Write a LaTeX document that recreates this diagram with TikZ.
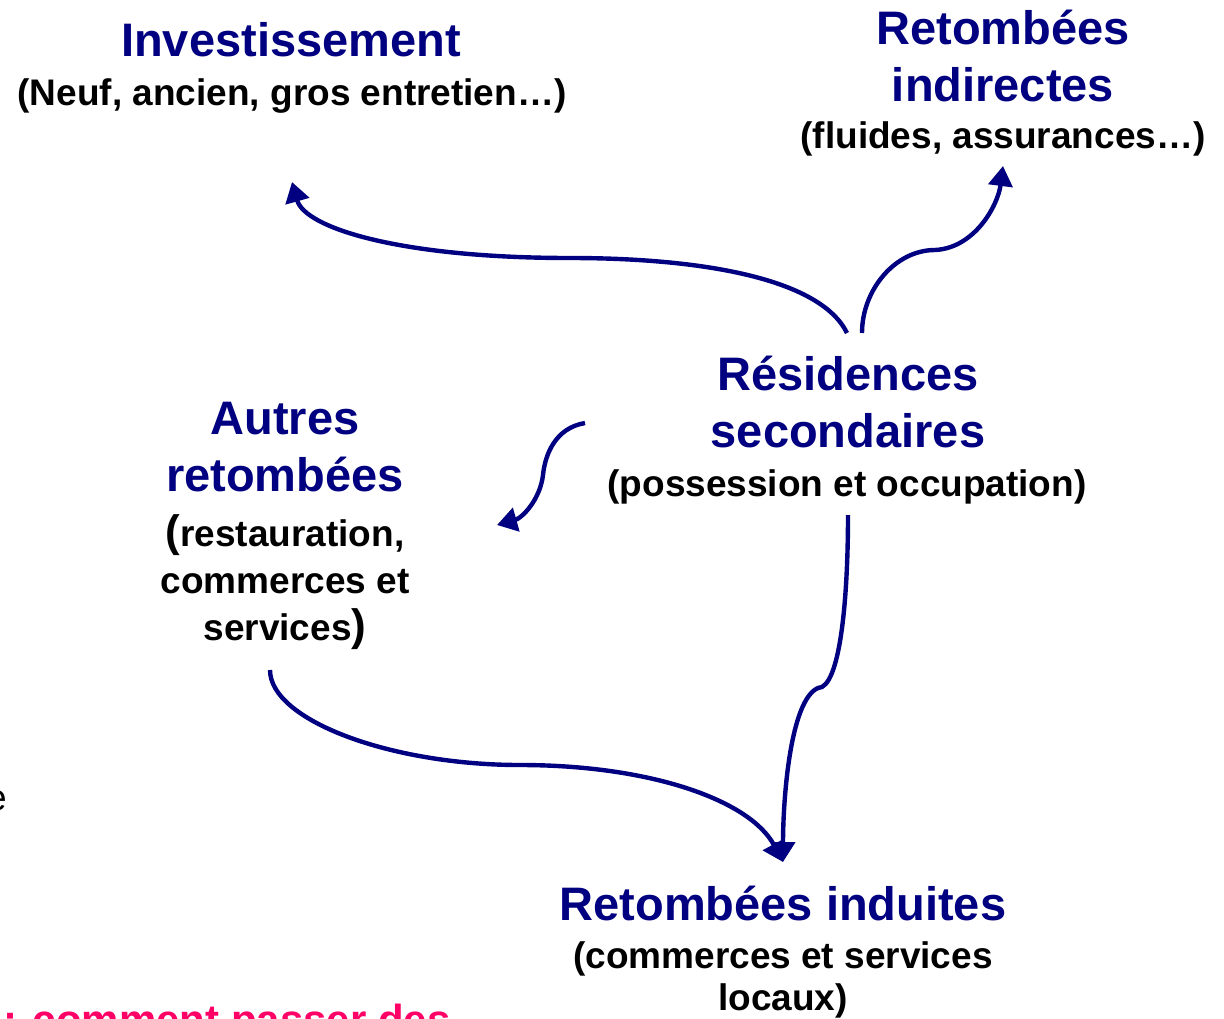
\documentclass[tikz,border=0pt]{standalone}
\usepackage{fontspec}
\setmainfont{Liberation Sans}
\usetikzlibrary{arrows.meta}

\definecolor{navyblue}{RGB}{0,0,128}
\definecolor{rosered}{RGB}{255,0,102}

\tikzset{
  titre/.style={inner sep=0pt, align=center, text=navyblue,
    font=\fontsize{47}{57}\selectfont\bfseries},
  soustitre/.style={inner sep=0pt, align=center, text=black,
    font=\fontsize{37}{46}\selectfont\bfseries},
  fleche/.style={draw=navyblue, line width=4.4pt,
    -{Triangle[length=20pt,width=24pt]}}
}

\begin{document}
\begin{tikzpicture}[x=1pt,y=-1pt]
\clip (0,0) rectangle (1224,1018);
\fill[white] (0,0) rectangle (1224,1018);

% les textes
\node [titre, anchor=north] (inv) at (291,22) {Investissement};
\node [soustitre, anchor=north] (invsub) at (292,78) {(Neuf, ancien, gros entretien…)};
\node [titre, anchor=north] (indir) at (1003,10) {Retombées\\indirectes};
\node [soustitre, anchor=north] (indirsub) at (1003,121) {(fluides, assurances…)};
\node [titre, anchor=north] (res) at (848,356) {Résidences\\secondaires};
\node [soustitre, anchor=north] (ressub) at (847,469) {(possession et occupation)};
\node [titre, anchor=north] (autres) at (285,402) {Autres\\retombées};
\node [soustitre, anchor=north, font=\fontsize{37}{47}\selectfont\bfseries] (autressub) at (285,514)
  {{\fontsize{44}{47}\selectfont(}restauration,\\commerces et\\services{\fontsize{44}{47}\selectfont)}};
\node [titre, anchor=north] (induites) at (783,886) {Retombées induites};
\node [soustitre, anchor=north, font=\fontsize{37}{42}\selectfont\bfseries] (induitessub) at (783,941)
  {(commerces et services\\locaux)};

% morceaux coupés au bord
\node [inner sep=0pt, anchor=base east, font=\fontsize{37}{44}\selectfont] (bord) at (7,810) {e};
\node [inner sep=0pt, anchor=base west, text=rosered, font=\fontsize{42}{50}\selectfont\bfseries]
  (question) at (3,1034) {: comment passer des};

% bouts des fleches
\coordinate (r1) at (847,333);
\coordinate (r2) at (862,333);
\coordinate (r3) at (585,423);
\coordinate (r4) at (848,515);
\coordinate (a1) at (270,670);
\coordinate (inv-in) at (292,182);
\coordinate (indir-in) at (1003,166);
\coordinate (autres-in) at (497,525);
\coordinate (induites-in) at (783,862);

\draw [fleche] (r1) .. controls (820,278) and (700,258) .. (570,258)
  .. controls (400,258) and (305,228) .. (inv-in);
\draw [fleche] (r2) .. controls (862,290) and (895,250) .. (935,250)
  .. controls (975,248) and (998,205) .. (indir-in);
\draw [fleche] (r3) .. controls (555,428) and (545,455) .. (543,475)
  .. controls (540,500) and (522,518) .. (autres-in);
\draw [fleche] (r4) .. controls (848,600) and (840,688) .. (818,688)
  .. controls (790,700) and (783,800) .. (induites-in);
\draw [fleche] (a1) .. controls (270,720) and (390,765) .. (520,765)
  .. controls (650,765) and (750,800) .. (induites-in);

\end{tikzpicture}
\end{document}
